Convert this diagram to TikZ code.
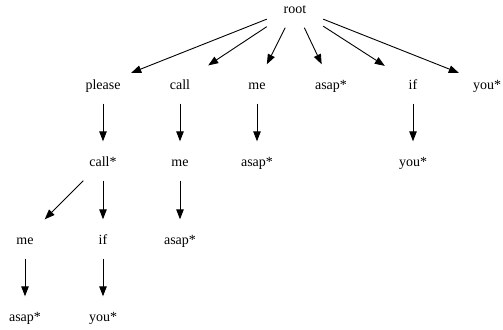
\documentclass[tikz,border=0pt]{standalone}
\usepackage{fontspec}
\setmainfont{Liberation Serif}
\usetikzlibrary{arrows.meta}
\begin{document}
\begin{tikzpicture}[x=1bp,y=-1bp,
  wordnode/.style={rectangle, inner sep=0pt, minimum width=56bp, minimum height=39bp,
    font=\fontsize{14bp}{16bp}\selectfont, text height=10bp, text depth=0bp},
  edge/.style={draw=black, line width=0.9bp, -{Triangle[length=10bp,width=7.5bp]}}]
\useasboundingbox (0,0) rectangle (503,329);
\node[wordnode] (root) at (295,8) {root};
\node[wordnode] (please) at (103,84) {please};
\node[wordnode] (call) at (180,84) {call};
\node[wordnode] (me1) at (257,84) {me};
\node[wordnode] (asap1) at (331,84) {asap*};
\node[wordnode] (if1) at (413,84) {if};
\node[wordnode] (you1) at (487,84) {you*};
\node[wordnode] (callstar) at (103,161) {call*};
\node[wordnode] (me2) at (180,161) {me};
\node[wordnode] (asap2) at (257,161) {asap*};
\node[wordnode] (you2) at (413,161) {you*};
\node[wordnode] (me3) at (25,239) {me};
\node[wordnode] (if3) at (103,239) {if};
\node[wordnode] (asap3) at (180,239) {asap*};
\node[wordnode] (asap4) at (25,316) {asap*};
\node[wordnode] (you4) at (103,316) {you*};
\draw[edge] (root) -- (please);
\draw[edge] (root) -- (call);
\draw[edge] (root) -- (me1);
\draw[edge] (root) -- (asap1);
\draw[edge] (root) -- (if1);
\draw[edge] (root) -- (you1);
\draw[edge] (please) -- (callstar);
\draw[edge] (call) -- (me2);
\draw[edge] (me1) -- (asap2);
\draw[edge] (if1) -- (you2);
\draw[edge] (callstar) -- (me3);
\draw[edge] (callstar) -- (if3);
\draw[edge] (me2) -- (asap3);
\draw[edge] (me3) -- (asap4);
\draw[edge] (if3) -- (you4);
\end{tikzpicture}
\end{document}
